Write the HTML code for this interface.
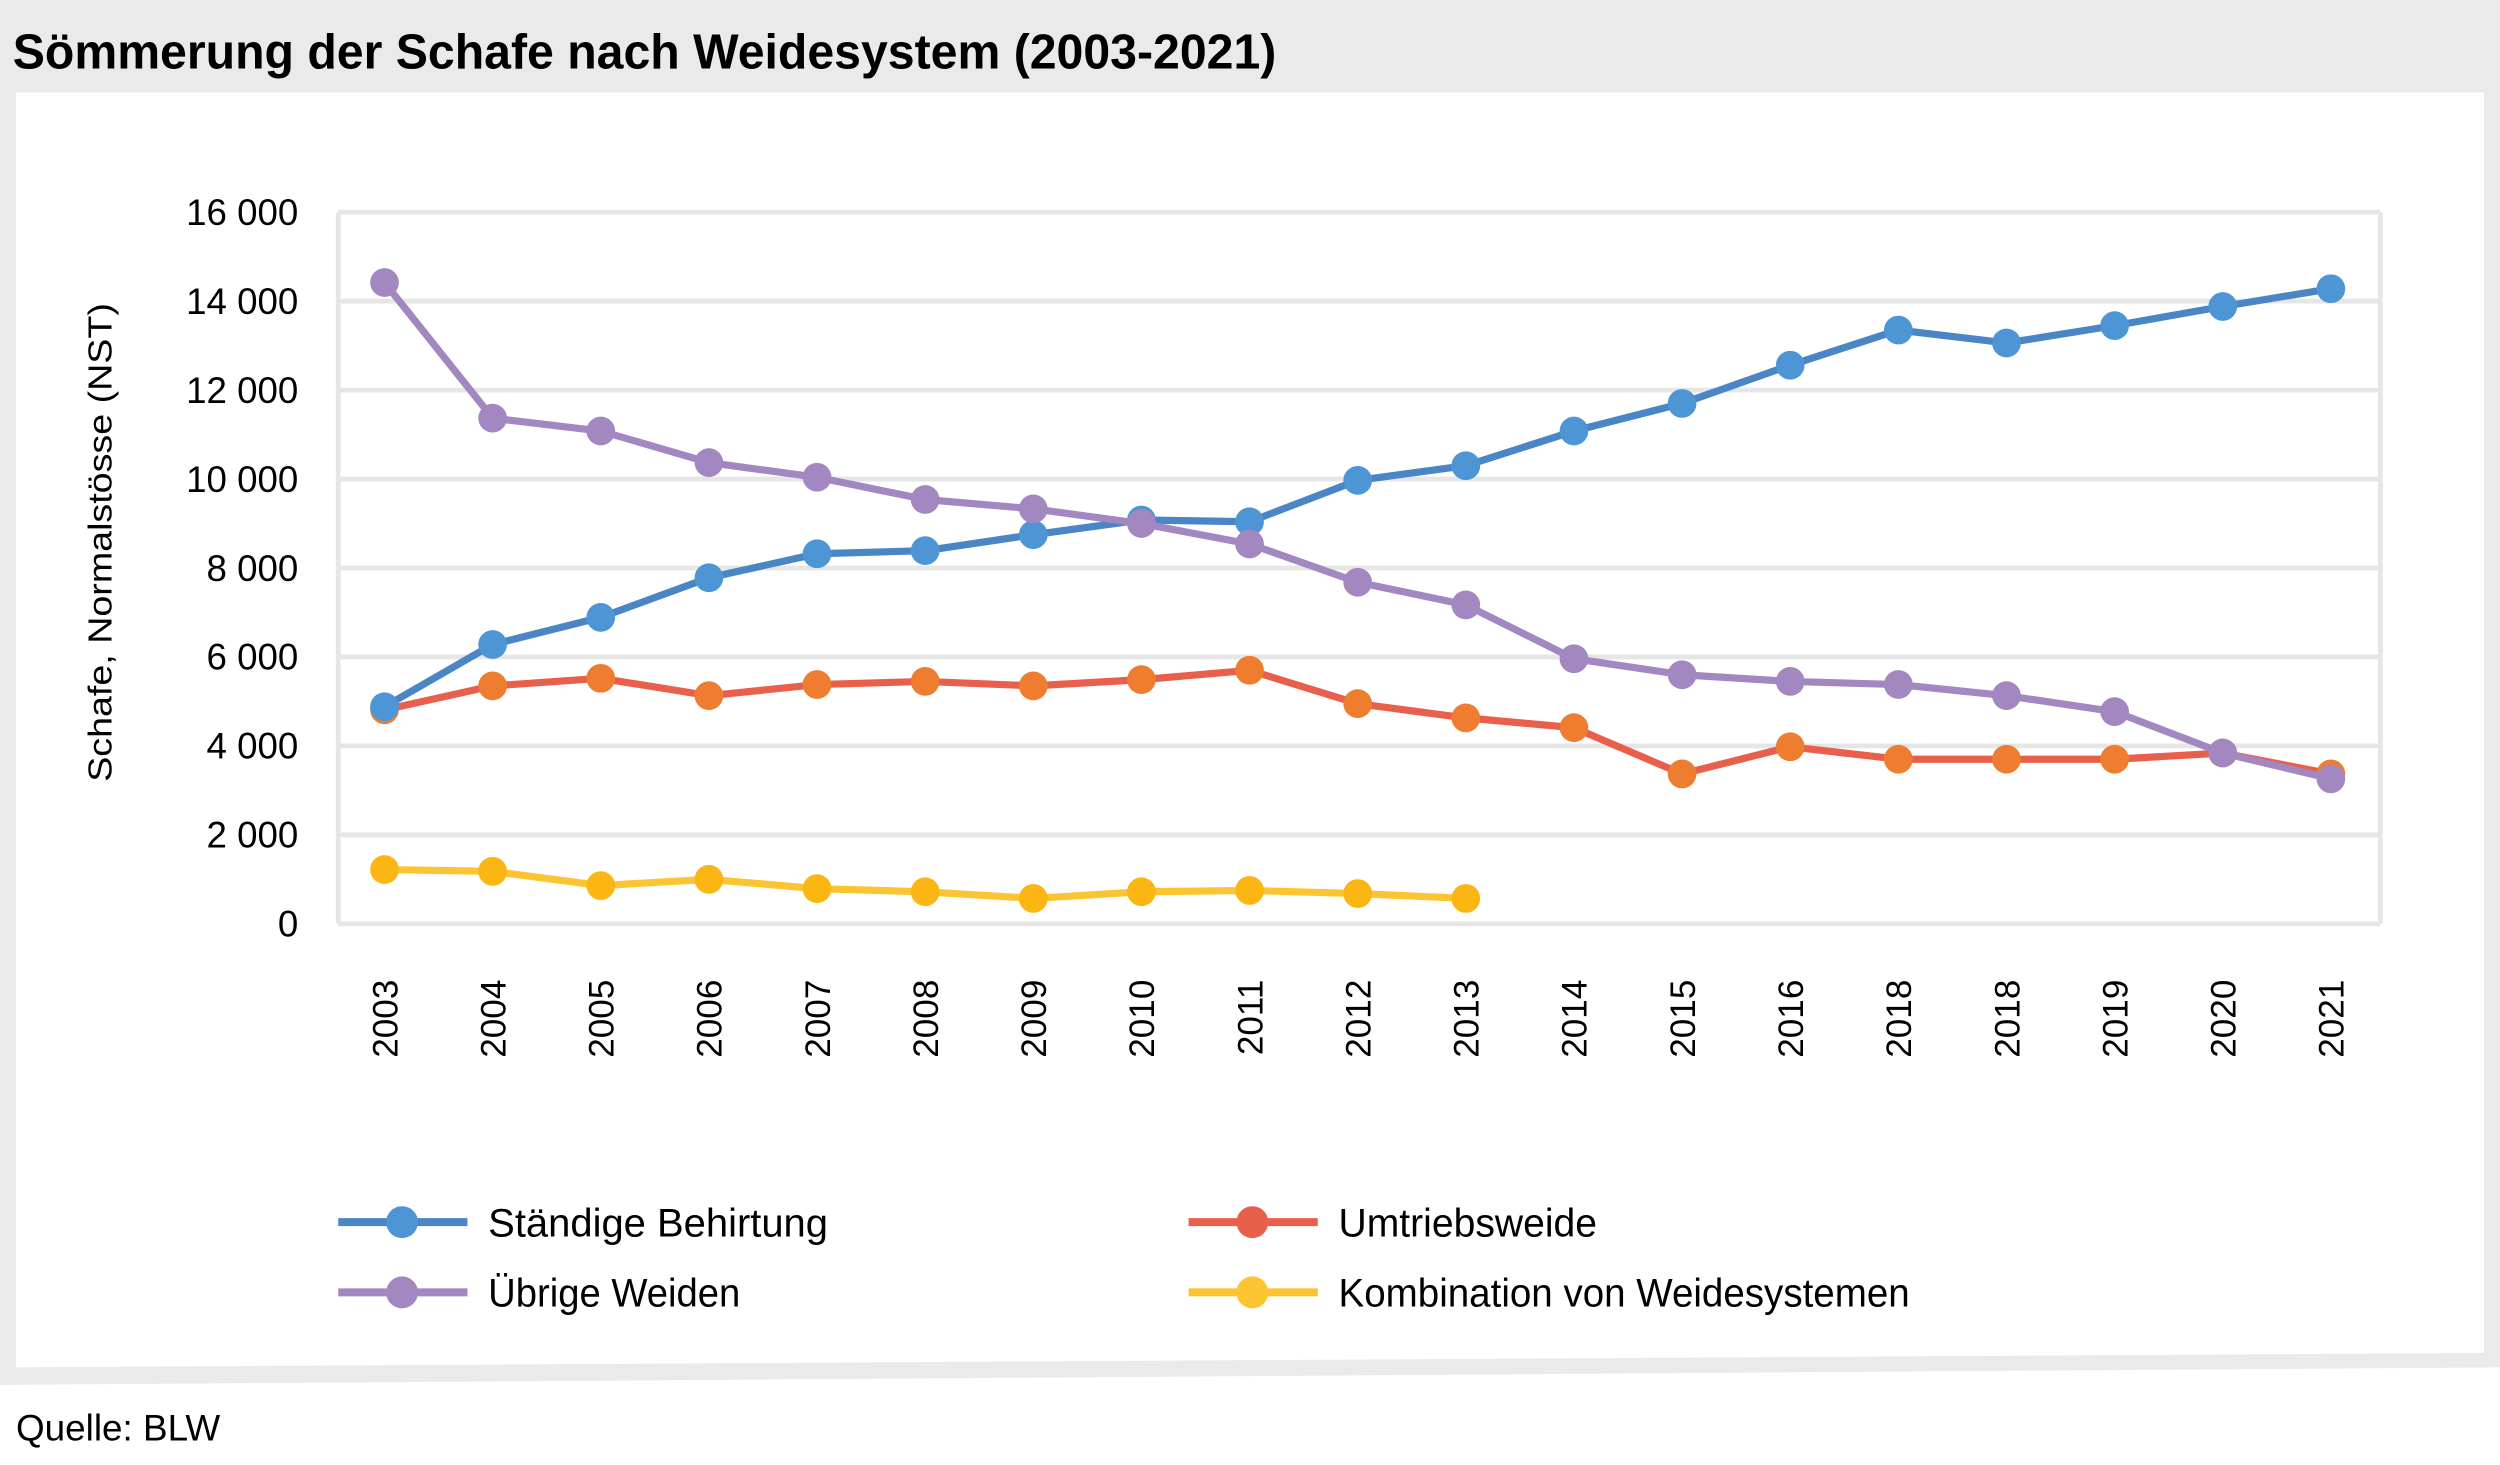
<!DOCTYPE html>
<html><head><meta charset="utf-8"><style>
html,body{margin:0;padding:0;background:#fff;}
svg{display:block;}
text{font-family:"Liberation Sans Narrow","Liberation Sans",sans-serif;fill:#000;}
</style></head><body>
<svg id="chart" width="2500" height="1465" viewBox="0 0 1567 918.2" preserveAspectRatio="none" xmlns="http://www.w3.org/2000/svg">
<polygon points="0,0 1567,0 1567,857 0,868" fill="#e9eae9"/>
<polygon points="10,58 1557,58 1557,848 10,857" fill="#fff"/>
<text x="8" y="43" font-size="31" font-weight="bold" textLength="792" lengthAdjust="spacingAndGlyphs">Sömmerung der Schafe nach Weidesystem (2003-2021)</text>
<text x="10" y="903" font-size="23" textLength="128" lengthAdjust="spacingAndGlyphs">Quelle: BLW</text>
<g id="grid"></g>
<g id="yticks"></g>
<g id="xticks"></g>
<text transform="translate(70,340) rotate(-90)" text-anchor="middle" font-size="21" font-family="Liberation Sans, sans-serif" style="font-family:'Liberation Sans',sans-serif" textLength="300" lengthAdjust="spacingAndGlyphs">Schafe, Normalstösse (NST)</text>
<g id="series"></g>
<g id="legend"></g>
</svg>
<script>
const categories = ["2003","2004","2005","2006","2007","2008","2009","2010","2011","2012","2013","2014","2015","2016","2018","2018","2019","2020","2021"];
const staendigeBehirtung = [4880,6280,6890,7780,8320,8390,8750,9080,9040,9970,10300,11080,11700,12560,13350,13060,13450,13880,14280];
const uebrigeWeiden = [14420,11370,11080,10370,10040,9540,9330,9000,8540,7680,7170,5960,5600,5450,5380,5130,4770,3840,3260];
const umtriebsweide = [4810,5350,5520,5130,5380,5450,5350,5490,5700,4950,4630,4410,3370,3980,3700,3700,3700,3840,3370];
const kombination = [1220,1180,860,1000,790,720,570,720,750,680,570];
const yTicks = [0,2000,4000,6000,8000,10000,12000,14000,16000];
const yTickLabels = ["0","2 000","4 000","6 000","8 000","10 000","12 000","14 000","16 000"];
const seriesNames = ["Ständige Behirtung","Umtriebsweide","Übrige Weiden","Kombination von Weidesystemen"];

const NS="http://www.w3.org/2000/svg";
const PL=212, PR=1492, PT=133, PB=579;
const X0=241, XSTEP=(1461-241)/18;
function xs(i){return X0+i*XSTEP;}
function ys(v){return PB-(v/16000)*(PB-PT);}
function mk(tag,attrs,parent){const e=document.createElementNS(NS,tag);for(const k in attrs)e.setAttribute(k,attrs[k]);parent.appendChild(e);return e;}

const grid=document.getElementById('grid');
yTicks.forEach((t,i)=>{
  const l=mk('line',{x1:PL,x2:PR,y1:ys(t),y2:ys(t),stroke:'#e6e6e6','stroke-width':3},grid);
  
  
});
const vl=mk('line',{x1:PL,x2:PL,y1:PT,y2:PB,stroke:'#e6e6e6','stroke-width':3},grid);


const vr=mk('line',{x1:PR,x2:PR,y1:PT,y2:PB,stroke:'#e6e6e6','stroke-width':3},grid);



const yt=document.getElementById('yticks');
yTicks.forEach((t,i)=>{
  const e=mk('text',{x:187,y:ys(t)+8,'text-anchor':'end','font-size':23},yt);
  e.textContent=yTickLabels[i];
  
  
});
const xt=document.getElementById('xticks');
categories.forEach((c,i)=>{
  const e=mk('text',{transform:`translate(${xs(i)+8},614) rotate(-90)`,'text-anchor':'end','font-size':22,style:"font-family:'Liberation Sans',sans-serif"},xt);
  e.textContent=c;
  
  
});

const sg=document.getElementById('series');
function drawSeries(vals,line,marker,name){
  const g=mk('g',{},sg);
  
  
  const pts=vals.map((v,i)=>xs(i)+','+ys(v)).join(' ');
  const p=mk('polyline',{points:pts,fill:'none',stroke:line,'stroke-width':4.5,'stroke-linejoin':'round'},g);
  
  
  vals.forEach((v,i)=>{
    const c=mk('circle',{cx:xs(i),cy:ys(v),r:9,fill:marker},g);
    
    
  });
}
drawSeries(kombination,'#fdc431','#fbb614','series-kombination');
drawSeries(umtriebsweide,'#e8604c','#ee7d2f','series-umtriebsweide');
drawSeries(staendigeBehirtung,'#4a86c5','#4e95d6','series-staendige-behirtung');
drawSeries(uebrigeWeiden,'#a387c1','#a387c1','series-uebrige-weiden');

const lg=document.getElementById('legend');
const legendItems=[
  {x:212,y:766,line:'#4a86c5',mk:'#4e95d6',len:213},
  {x:745,y:766,line:'#e8604c',mk:'#e8604c',len:162},
  {x:212,y:810,line:'#a387c1',mk:'#a387c1',len:158},
  {x:745,y:810,line:'#fdc431',mk:'#fdc431',len:358}
];
legendItems.forEach((it,i)=>{
  const g=mk('g',{},lg);
  
  
  mk('line',{x1:it.x,x2:it.x+81,y1:it.y,y2:it.y,stroke:it.line,'stroke-width':5},g);
  mk('circle',{cx:it.x+40,cy:it.y,r:10,fill:it.mk},g);
  const t=mk('text',{x:it.x+94,y:it.y+9,'font-size':25,textLength:it.len,lengthAdjust:'spacingAndGlyphs'},g);
  t.textContent=seriesNames[i];
  
  
});
</script>
</body></html>
